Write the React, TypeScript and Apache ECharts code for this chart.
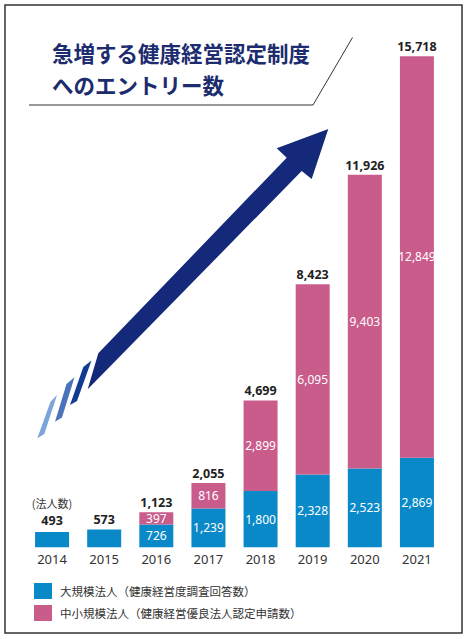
import React, { useEffect, useRef } from "react";
import * as echarts from "echarts";

const years = ["2014", "2015", "2016", "2017", "2018", "2019", "2020", "2021"];
const largeCorp = [493, 573, 726, 1239, 1800, 2328, 2523, 2869];
const smeCorp = [0, 0, 397, 816, 2899, 6095, 9403, 12849];
const totals = [493, 573, 1123, 2055, 4699, 8423, 11926, 15718];
const seriesNames = ["大規模法人（健康経営度調査回答数）", "中小規模法人（健康経営優良法人認定申請数）"];
const titleText = "急増する健康経営認定制度\nへのエントリー数";
const unitText = "(法人数)";

const BLUE = "#0a89c9";
const PINK = "#c95c8b";
const NAVY = "#15297a";
const fmt = (v: number) => v.toLocaleString("en-US");

export default function App() {
  const ref = useRef<HTMLDivElement>(null);
  useEffect(() => {
    const chart = echarts.init(ref.current!, null, { renderer: "svg" });
    const sans = '"Noto Sans", "Noto Sans CJK JP", sans-serif';
    const cjk = '"Noto Sans CJK JP", "Noto Sans", sans-serif';
    chart.setOption({
      animation: false,
      backgroundColor: "#ffffff",
      title: {
        text: titleText,
        left: 52,
        top: 36,
        padding: 0,
        textStyle: {
          fontFamily: cjk,
          fontSize: 21.5,
          fontWeight: "bold",
          color: "#1c2c6e",
          lineHeight: 32,
        },
      },
      legend: {
        data: seriesNames,
        orient: "vertical",
        left: 34,
        top: 583,
        padding: 0,
        itemWidth: 18,
        itemHeight: 16,
        itemGap: 6,
        icon: "rect",
        textStyle: { fontFamily: cjk, fontSize: 11.5, color: "#333", padding: [0, 0, 0, 3] },
        selectedMode: false,
      },
      grid: { left: 26, right: 24, top: 47.5, bottom: 91.7 },
      xAxis: {
        type: "category",
        data: years,
        axisLine: { show: false },
        axisTick: { show: false },
        axisLabel: { fontFamily: sans, fontSize: 13, color: "#333", margin: 5 },
      },
      yAxis: {
        type: "value",
        min: 0,
        max: 16000,
        show: false,
        splitLine: { show: false },
      },
      graphic: [
        {
          type: "rect",
          shape: { x: 5, y: 5, width: 457, height: 628 },
          style: { fill: "none", stroke: "#333", lineWidth: 1.5 },
          silent: true,
        },
        {
          type: "polyline",
          shape: { points: [[29, 105], [313, 105], [352.5, 37.5]] },
          style: { stroke: "#333", lineWidth: 1, fill: "none" },
          silent: true,
        },
        {
          type: "polygon",
          shape: {
            points: [
              [98.3, 353.3],
              [286.7, 157.7],
              [276.7, 148.3],
              [328.3, 129],
              [311.7, 179],
              [301.7, 171],
              [87.7, 389.3],
            ],
          },
          style: { fill: NAVY },
          silent: true,
        },
        {
          type: "polygon",
          shape: { points: [[91.5, 360.5], [83.3, 367], [70, 405], [77, 401]] },
          style: { fill: "#123c94" },
          silent: true,
        },
        {
          type: "polygon",
          shape: { points: [[74.5, 377.3], [66.5, 384], [55, 421.7], [62, 417.5]] },
          style: { fill: "#4a73bb" },
          silent: true,
        },
        {
          type: "polygon",
          shape: { points: [[57, 395], [50.5, 401.7], [37.3, 438.3], [44.3, 434]] },
          style: { fill: "#7ba4d9" },
          silent: true,
        },
      ],
      series: [
        {
          name: seriesNames[0],
          type: "bar",
          stack: "total",
          barWidth: 34,
          data: largeCorp,
          itemStyle: { color: BLUE },
          label: {
            show: true,
            position: "inside",
            color: "#fff",
            fontFamily: sans,
            fontSize: 12,
            formatter: (p: any) => (p.dataIndex < 2 ? "" : fmt(p.value)),
          },
        },
        {
          name: seriesNames[1],
          type: "bar",
          stack: "total",
          barWidth: 34,
          data: smeCorp,
          itemStyle: { color: PINK },
          label: {
            show: true,
            position: "inside",
            color: "#fff",
            fontFamily: sans,
            fontSize: 12,
            formatter: (p: any) => (p.value ? fmt(p.value) : ""),
          },
        },
        {
          name: "total",
          type: "line",
          data: totals,
          symbol: "circle",
          symbolSize: 1,
          itemStyle: { color: "rgba(0,0,0,0)" },
          lineStyle: { opacity: 0 },
          z: 10,
          label: {
            show: true,
            position: "top",
            distance: 3,
            color: "#222",
            fontFamily: sans,
            fontSize: 12.5,
            fontWeight: "bold",
            formatter: (p: any) =>
              p.dataIndex === 0 ? `{u|${unitText}}\n{t|${fmt(p.value)}}` : fmt(p.value),
            rich: {
              u: { fontFamily: cjk, fontSize: 11, color: "#333", lineHeight: 18, fontWeight: "normal" },
              t: { fontFamily: sans, fontSize: 12.5, fontWeight: "bold", color: "#222", lineHeight: 16 },
            },
          },
        },
      ],
    });
    return () => chart.dispose();
  }, []);
  return (
    <div
      ref={ref}
      style={{ position: "fixed", left: 0, top: 0, width: 467, height: 639 }}
    />
  );
}
